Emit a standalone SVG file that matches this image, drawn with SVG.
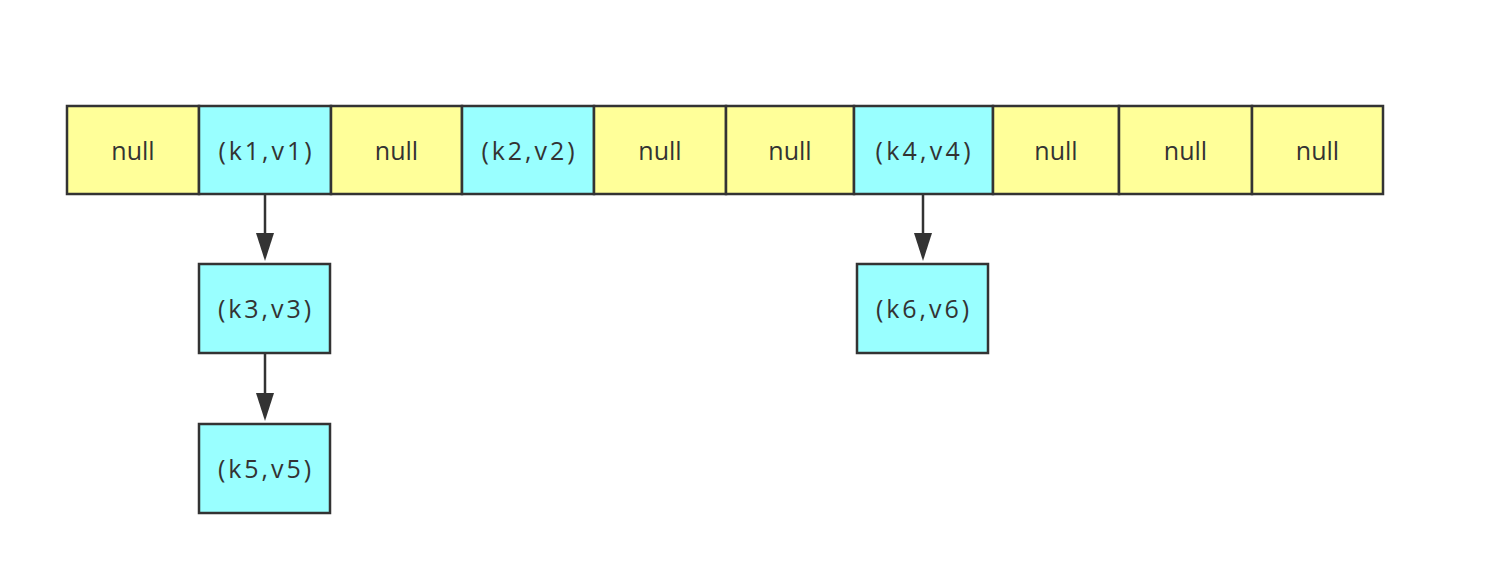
<svg xmlns="http://www.w3.org/2000/svg" width="1508" height="574" viewBox="0 0 1508 574">
<defs>
<style>
.y{fill:#ffff99;stroke:#333;stroke-width:2.5}
.c{fill:#99ffff;stroke:#333;stroke-width:2.5}
text{font-family:"Open Sans","Noto Sans","Liberation Sans",sans-serif;font-size:25px;fill:#333;text-anchor:middle}
.e{stroke:#333;stroke-width:2.5;fill:none}
.h{fill:#333}
</style>
</defs>
<rect width="1508" height="574" fill="#fff"/>
<g id="arr">
<g id="c0"><rect class="y" x="67" y="106" width="132" height="88"/><text x="133" y="160">null</text></g>
<g id="c1"><rect class="c" x="199" y="106" width="132" height="88"/><text x="265" y="160" textLength="93" lengthAdjust="spacing">(k1,v1)</text></g>
<g id="c2"><rect class="y" x="331" y="106" width="131" height="88"/><text x="396.5" y="160">null</text></g>
<g id="c3"><rect class="c" x="462" y="106" width="132" height="88"/><text x="528" y="160" textLength="93" lengthAdjust="spacing">(k2,v2)</text></g>
<g id="c4"><rect class="y" x="594" y="106" width="132" height="88"/><text x="660" y="160">null</text></g>
<g id="c5"><rect class="y" x="726" y="106" width="128" height="88"/><text x="790" y="160">null</text></g>
<g id="c6"><rect class="c" x="854" y="106" width="139" height="88"/><text x="923" y="160" textLength="95" lengthAdjust="spacing">(k4,v4)</text></g>
<g id="c7"><rect class="y" x="993" y="106" width="126" height="88"/><text x="1056" y="160">null</text></g>
<g id="c8"><rect class="y" x="1119" y="106" width="133" height="88"/><text x="1185.5" y="160">null</text></g>
<g id="c9"><rect class="y" x="1252" y="106" width="131" height="88"/><text x="1317.5" y="160">null</text></g>
</g>
<g id="n3"><rect class="c" x="199" y="264" width="131" height="89"/><text x="264.5" y="318" textLength="93" lengthAdjust="spacing">(k3,v3)</text></g>
<g id="n5"><rect class="c" x="199" y="424" width="131" height="89"/><text x="264.5" y="478" textLength="93" lengthAdjust="spacing">(k5,v5)</text></g>
<g id="n6"><rect class="c" x="857" y="264" width="131" height="89"/><text x="922.5" y="318" textLength="93" lengthAdjust="spacing">(k6,v6)</text></g>
<g id="edges">
<path class="e" d="M265,195 V234"/>
<path class="h" d="M256,233 L274,233 L265,261 Z"/>
<path class="e" d="M265,353 V394"/>
<path class="h" d="M256,393 L274,393 L265,421 Z"/>
<path class="e" d="M923,195 V234"/>
<path class="h" d="M914,233 L932,233 L923,261 Z"/>
</g>
</svg>
